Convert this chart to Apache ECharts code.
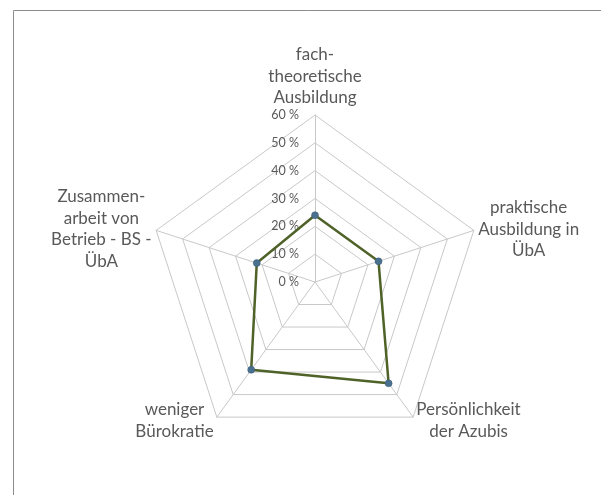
<!DOCTYPE html>
<html><head><meta charset="utf-8">
<script src="https://cdn.jsdelivr.net/npm/echarts@6/dist/echarts.min.js"></script>
<style>html,body{margin:0;padding:0;background:#fff}#c{width:601px;height:495px}</style>
</head><body><div id="c"></div>
<script>
// Order as drawn counter-clockwise from the top axis
const categories = ['fach-\ntheoretische\nAusbildung', 'Zusammen-\narbeit von\nBetrieb - BS -\nÜbA', 'weniger\nBürokratie', 'Persönlichkeit\nder Azubis', 'praktische\nAusbildung in\nÜbA'];
const values = [24, 22, 39, 45, 24];
const axisMax = 60;

const nameFont = {fontFamily: 'Lato', fontSize: 17, color: '#595959', lineHeight: 21.5};
const ctx = document.createElement('canvas').getContext('2d');
ctx.font = nameFont.fontSize + 'px ' + nameFont.fontFamily;
const rich = {};
categories.forEach((n, i) => {
  const w = Math.max(...n.split('\n').map(s => ctx.measureText(s).width));
  rich['l' + i] = Object.assign({width: Math.ceil(w) + 1, align: 'center'}, nameFont);
});

const chart = echarts.init(document.getElementById('c'), null, {renderer: 'canvas'});
chart.setOption({
  animation: false,
  graphic: [{type: 'rect', shape: {x: 13.5, y: 10.5, width: 600, height: 500}, style: {fill: 'none', stroke: '#8c8c8c', lineWidth: 1}}],
  radar: {
    center: [315, 282],
    radius: 167,
    startAngle: 90,
    shape: 'polygon',
    splitNumber: 6,
    indicator: categories.map((n, i) => ({name: n, min: 0, max: axisMax, axisLabel: {show: i === 0}})),
    axisName: Object.assign({
      formatter: (name) => {
        const i = categories.indexOf(name);
        return name.split('\n').map(s => '{l' + i + '|' + s + '}').join('\n');
      },
      rich: rich
    }, nameFont),
    nameGap: 4,
    splitLine: {lineStyle: {color: '#c8c8c8', width: 1}},
    splitArea: {show: false},
    axisLine: {lineStyle: {color: '#c8c8c8', width: 1}},
    axisTick: {show: false},
    axisLabel: {color: '#595959', fontFamily: 'Lato', fontSize: 12.5, formatter: v => v + ' %', margin: 16}
  },
  series: [{
    type: 'radar',
    symbol: 'circle',
    symbolSize: 7,
    lineStyle: {color: '#4f6228', width: 2.5},
    itemStyle: {color: '#4a7090', borderColor: '#3a5a78', borderWidth: 0.5},
    data: [{value: values}]
  }]
});
</script></body></html>
